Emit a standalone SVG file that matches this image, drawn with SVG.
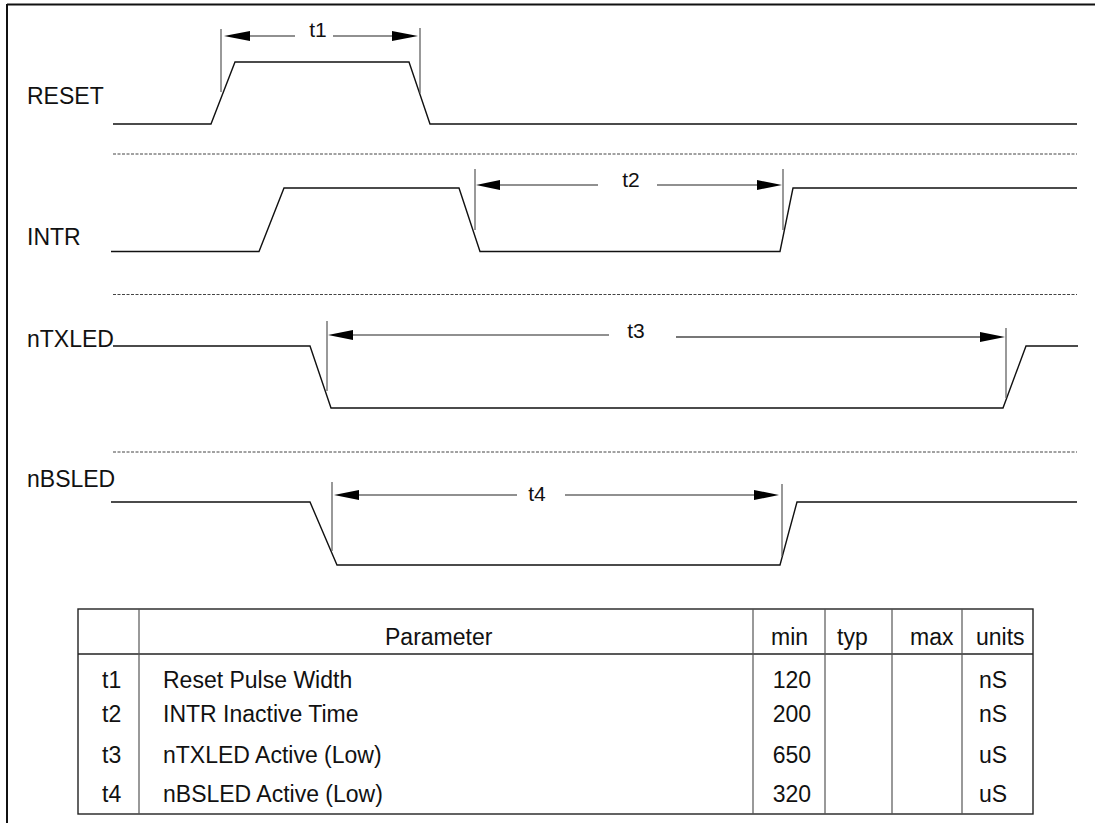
<svg xmlns="http://www.w3.org/2000/svg" width="1095" height="823" viewBox="0 0 1095 823">
<style>
text{font-family:"Liberation Sans",Arial,sans-serif;fill:#111}
.lbl{font-size:23px}
.dim{font-size:21px;text-anchor:middle}
.tb{font-size:23px}
.sig{fill:none;stroke:#111;stroke-width:1.4;stroke-linejoin:miter}
.sep{stroke:#444;stroke-width:1;stroke-dasharray:3,1.5}
.ext{stroke:#555;stroke-width:1.2}
.dl{stroke:#222;stroke-width:1.2}
.ah{fill:#000}
.tl{stroke:#222;stroke-width:1.4;fill:none}
.tg{stroke:#555;stroke-width:1.2}
</style>
<rect x="0" y="0" width="1095" height="823" fill="#fff"/>
<g id="frame">
<line x1="7" y1="4.5" x2="1095" y2="4.5" stroke="#111" stroke-width="2"/>
<line x1="7" y1="4" x2="7" y2="823" stroke="#111" stroke-width="2"/>
</g>
<g id="separators">
<line class="sep" x1="113" y1="154" x2="1077" y2="154"/>
<line class="sep" x1="113" y1="294.5" x2="1077" y2="294.5"/>
<line class="sep" x1="113" y1="452" x2="1077" y2="452"/>
</g>
<g id="reset">
<text class="lbl" x="27" y="104">RESET</text>
<polyline class="sig" points="113,124 211,124 235,62 409,62 430,124 1077,124"/>
</g>
<g id="intr">
<text class="lbl" x="27" y="245">INTR</text>
<polyline class="sig" points="111,251.5 259,251.5 284,188 459,188 480,251.5 780,251.5 793,188 1077,188"/>
</g>
<g id="ntxled">
<text class="lbl" x="27" y="347">nTXLED</text>
<polyline class="sig" points="113,346 310,346 331,408 1003,408 1026,346 1078,346"/>
</g>
<g id="nbsled">
<text class="lbl" x="27" y="487">nBSLED</text>
<polyline class="sig" points="111,502 310,502 337,565 780,565 797,502 1077,502"/>
</g>
<g id="connectors">
<g id="t1">
<line class="ext" x1="221" y1="29" x2="221" y2="92"/>
<line class="ext" x1="420" y1="28" x2="420" y2="93"/>
<line class="dl" x1="248" y1="36" x2="295" y2="36"/>
<line class="dl" x1="333" y1="36" x2="395" y2="36"/>
<polygon class="ah" points="224,36 250,31 250,41"/>
<polygon class="ah" points="418,36 392,31 392,41"/>
<text class="dim" x="318" y="37">t1</text>
</g>
<g id="t2">
<line class="ext" x1="475" y1="169" x2="475" y2="230"/>
<line class="ext" x1="783" y1="169" x2="783" y2="230"/>
<line class="dl" x1="497" y1="185" x2="598" y2="185"/>
<line class="dl" x1="657" y1="185" x2="759" y2="185"/>
<polygon class="ah" points="476,185 500,180 500,190"/>
<polygon class="ah" points="782,185 757,180 757,190"/>
<text class="dim" x="631" y="187">t2</text>
</g>
<g id="t3">
<line class="ext" x1="327" y1="321" x2="327" y2="391"/>
<line class="ext" x1="1006" y1="328" x2="1006" y2="398"/>
<line class="dl" x1="350" y1="335" x2="609" y2="335"/>
<line x1="676" y1="337" x2="983" y2="337" stroke="#777" stroke-width="2"/>
<polygon class="ah" points="328,335 353,330 353,340"/>
<polygon class="ah" points="1005,337 980,332 980,342"/>
<text class="dim" x="636" y="338">t3</text>
</g>
<g id="t4">
<line class="ext" x1="332" y1="482" x2="332" y2="551"/>
<line class="ext" x1="782" y1="484" x2="782" y2="556"/>
<line class="dl" x1="356" y1="495" x2="517" y2="495"/>
<line class="dl" x1="565" y1="495" x2="757" y2="495"/>
<polygon class="ah" points="334,495 359,490 359,500"/>
<polygon class="ah" points="779,495 754,490 754,500"/>
<text class="dim" x="537" y="501">t4</text>
</g>
</g>
<g id="table">
<rect class="tl" x="78" y="609" width="955" height="205"/>
<line class="tl" x1="78" y1="654" x2="1033" y2="654"/>
<line class="tg" x1="139" y1="609" x2="139" y2="814"/>
<line class="tg" x1="753" y1="609" x2="753" y2="814"/>
<line class="tg" x1="825" y1="609" x2="825" y2="814"/>
<line class="tg" x1="892" y1="609" x2="892" y2="814"/>
<line class="tg" x1="962" y1="609" x2="962" y2="814"/>
<text class="tb" x="385" y="645">Parameter</text>
<text class="tb" x="771" y="645">min</text>
<text class="tb" x="837" y="645">typ</text>
<text class="tb" x="910" y="645">max</text>
<text class="tb" x="976" y="645">units</text>
<text class="tb" x="102" y="688">t1</text>
<text class="tb" x="163" y="688">Reset Pulse Width</text>
<text class="tb" x="811" y="688" text-anchor="end">120</text>
<text class="tb" x="979" y="688">nS</text>
<text class="tb" x="102" y="722">t2</text>
<text class="tb" x="163" y="722">INTR Inactive Time</text>
<text class="tb" x="811" y="722" text-anchor="end">200</text>
<text class="tb" x="979" y="722">nS</text>
<text class="tb" x="102" y="763">t3</text>
<text class="tb" x="163" y="763">nTXLED Active (Low)</text>
<text class="tb" x="811" y="763" text-anchor="end">650</text>
<text class="tb" x="979" y="763">uS</text>
<text class="tb" x="102" y="802">t4</text>
<text class="tb" x="163" y="802">nBSLED Active (Low)</text>
<text class="tb" x="811" y="802" text-anchor="end">320</text>
<text class="tb" x="979" y="802">uS</text>
</g>
</svg>
